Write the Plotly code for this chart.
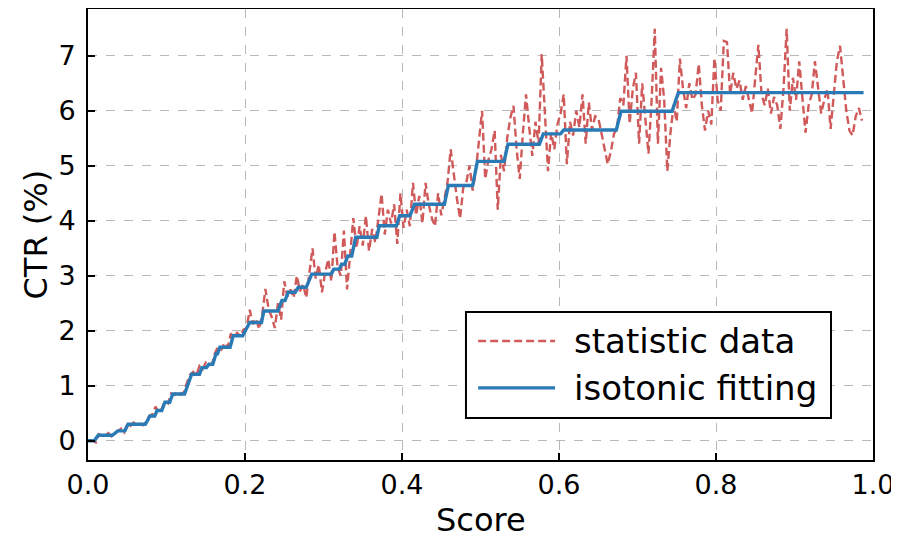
import numpy as np
import plotly.graph_objects as go

# ---------------- data ----------------
score = [round(0.002 + 0.004 * i, 3) for i in range(247)]

ctr_stat = [
    0.00, 0.01, -0.03, 0.12, 0.09, 0.10, 0.14, 0.08, 0.13, 0.18,
    0.22, 0.15, 0.30, 0.27, 0.33, 0.29, 0.31, 0.28, 0.34, 0.45,
    0.48, 0.62, 0.52, 0.58, 0.73, 0.68, 0.86, 0.83, 0.90, 0.84,
    0.88, 1.05, 1.20, 1.25, 1.19, 1.36, 1.30, 1.42, 1.37, 1.40,
    1.60, 1.72, 1.66, 1.78, 1.70, 1.95, 1.88, 1.96, 1.90, 2.02,
    2.05, 2.38, 2.12, 2.22, 2.03, 2.30, 2.76, 2.40, 2.25, 2.05,
    2.50, 2.20, 2.90, 2.62, 2.75, 2.60, 3.00, 2.72, 2.85, 2.60,
    3.10, 3.50, 2.95, 3.20, 2.70, 3.05, 3.30, 2.90, 3.80, 3.15,
    3.00, 3.82, 2.75, 3.45, 4.05, 3.50, 3.90, 3.55, 4.09, 3.45,
    3.85, 3.60, 4.10, 4.49, 3.75, 4.20, 3.95, 4.30, 3.58, 4.50,
    3.87, 4.20, 3.90, 4.69, 4.10, 4.45, 3.95, 4.69, 4.30, 4.05,
    3.90, 4.50, 4.10, 4.40, 4.70, 5.30, 4.80, 4.40, 4.04, 4.60,
    4.70, 5.00, 4.55, 4.90, 5.45, 6.00, 4.76, 5.10, 5.30, 5.64,
    4.20, 5.20, 4.90, 5.50, 5.87, 6.09, 5.30, 4.76, 5.60, 6.30,
    5.70, 5.18, 5.80, 5.40, 7.03, 5.90, 4.90, 5.60, 5.30, 5.75,
    5.95, 6.30, 5.03, 5.80, 5.55, 6.00, 5.70, 6.30, 5.40, 6.15,
    5.65, 5.90, 5.87, 5.60, 5.30, 5.03, 5.25, 5.58, 5.69, 6.23,
    6.10, 7.00, 5.76, 6.40, 6.69, 5.40, 6.50, 5.90, 5.22, 6.20,
    7.49, 5.40, 6.78, 6.20, 4.90, 5.60, 6.10, 5.80, 6.95, 6.40,
    6.05, 6.50, 6.20, 6.30, 6.85, 6.10, 5.64, 6.00, 5.75, 6.96,
    6.20, 6.00, 7.27, 7.25, 6.30, 6.69, 6.40, 6.55, 6.20, 6.45,
    6.20, 5.95, 6.60, 7.20, 6.30, 6.10, 6.40, 5.95, 6.25, 6.10,
    5.67, 6.40, 7.49, 6.00, 6.60, 6.20, 6.90, 6.30, 5.60, 6.10,
    6.30, 6.90, 6.40, 5.95, 6.20, 6.40, 5.67, 6.30, 6.90, 7.18,
    6.60, 6.00, 5.64, 5.55, 5.90, 6.05, 5.82,
]

# isotonic fit: constant segments (start score, end score, CTR level)
iso_start = [0.000, 0.013, 0.038, 0.051, 0.079, 0.088, 0.098, 0.108, 0.132, 0.145,
             0.154, 0.163, 0.168, 0.185, 0.206, 0.224, 0.247, 0.255, 0.268, 0.285,
             0.313, 0.323, 0.331, 0.341, 0.371, 0.397, 0.416, 0.459, 0.496, 0.535,
             0.580, 0.606, 0.679, 0.752]
iso_end = [0.008, 0.031, 0.047, 0.073, 0.085, 0.094, 0.104, 0.123, 0.142, 0.151,
           0.159, 0.165, 0.181, 0.197, 0.221, 0.242, 0.251, 0.264, 0.278, 0.310,
           0.320, 0.327, 0.336, 0.368, 0.393, 0.410, 0.454, 0.490, 0.530, 0.575,
           0.602, 0.673, 0.744, 0.988]
iso_level = [0.00, 0.10, 0.18, 0.30, 0.45, 0.55, 0.70, 0.85, 1.21, 1.33,
             1.39, 1.58, 1.70, 1.91, 2.15, 2.36, 2.55, 2.70, 2.79, 3.03,
             3.12, 3.21, 3.36, 3.70, 3.91, 4.09, 4.30, 4.64, 5.08, 5.39,
             5.58, 5.65, 5.99, 6.33]

x_ticks = [0.0, 0.2, 0.4, 0.6, 0.8, 1.0]
y_ticks = [0, 1, 2, 3, 4, 5, 6, 7]
x_title = "Score"
y_title = "CTR (%)"
legend_labels = ["statistic data", "isotonic fitting"]

# ---------------- figure ----------------
iso_x, iso_y = [], []
for s, e, v in zip(iso_start, iso_end, iso_level):
    iso_x += [s, e]
    iso_y += [v, v]

RED = "#d05a5a"
BLUE = "#2a7ab5"
FONT = "DejaVu Sans"
red_line = dict(color=RED, width=2.4, dash="8px,4px")
blue_line = dict(color=BLUE, width=3.4)

fig = go.Figure()
fig.add_trace(go.Scatter(x=score, y=ctr_stat, mode="lines", line=red_line,
                         name=legend_labels[0], showlegend=False))
fig.add_trace(go.Scatter(x=iso_x, y=iso_y, mode="lines", line=blue_line,
                         name=legend_labels[1], showlegend=False))

axis_common = dict(
    showline=True, linecolor="black", linewidth=2, mirror=True,
    ticks="inside", ticklen=7, tickwidth=2, tickcolor="black",
    showgrid=True, gridcolor="#b8b8b8", gridwidth=1, griddash="dash",
    zeroline=False, automargin=False,
    tickfont=dict(family=FONT, size=27, color="black"),
)

fig.update_xaxes(range=[0, 1.0], tickvals=x_ticks, tickformat=".1f", **axis_common)
fig.update_yaxes(range=[-0.35, 7.85], tickvals=y_ticks, ticklabelstandoff=5,
                 **axis_common)

# axis titles
fig.add_annotation(xref="paper", yref="paper", x=0.5, y=-0.133, xanchor="center",
                   yanchor="middle", text=x_title, showarrow=False,
                   font=dict(family=FONT, size=32, color="black"))
fig.add_annotation(xref="paper", yref="paper", x=-0.0675, y=0.5, xanchor="center",
                   yanchor="middle", text=y_title, showarrow=False, textangle=-90,
                   font=dict(family=FONT, size=32, color="black"))

# custom legend box
box_x0, box_x1, box_y0, box_y1 = 0.4815, 0.9465, 0.093, 0.328
fig.add_shape(type="rect", xref="paper", yref="paper",
              x0=box_x0, x1=box_x1, y0=box_y0, y1=box_y1,
              line=dict(color="black", width=2), fillcolor="white", layer="above")
rows_y = [0.264, 0.160]
for yy, st, lab in zip(rows_y, [red_line, blue_line], legend_labels):
    fig.add_shape(type="line", xref="paper", yref="paper",
                  x0=0.497, x1=0.595, y0=yy, y1=yy, line=st, layer="above")
    fig.add_annotation(xref="paper", yref="paper", x=0.617, y=yy,
                       xanchor="left", yanchor="middle", text=lab, showarrow=False,
                       font=dict(family=FONT, size=34, color="black"))

# page body has an 8px margin, so the figure is sized to fit the 899x538 window
fig.update_layout(
    width=891, height=530,
    margin=dict(l=80, r=26, t=1, b=78),
    paper_bgcolor="white", plot_bgcolor="white",
    font=dict(family=FONT, color="black"),
)

fig.write_html("out.html")
